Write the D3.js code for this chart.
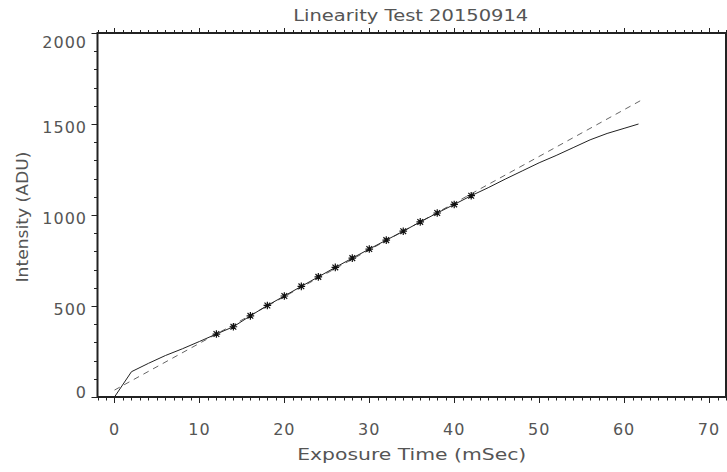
<!DOCTYPE html>
<html>
<head>
<meta charset="utf-8">
<script src="https://cdn.jsdelivr.net/npm/d3@7"></script>
<style>
  html, body { margin: 0; padding: 0; background: #fff; }
  svg { display: block; }
  text { font-family: "DejaVu Sans", sans-serif; fill: #555; }
</style>
</head>
<body>
<svg id="chart" width="727" height="472"></svg>
<script>
// Measured intensity versus exposure time (solid curve)
const exposureMs = [0, 2, 4, 6, 8, 10, 12, 14, 16, 18, 20, 22, 24, 26, 28, 30,
                    32, 34, 36, 38, 40, 42, 44, 46, 48, 50, 52, 54, 56, 58, 60, 61.7];
const intensityAdu = [0, 139, 185, 228, 265, 305, 346, 386, 446, 503, 555, 608,
                      660, 712, 763, 813, 862, 911, 962, 1011, 1058, 1106, 1150,
                      1197, 1242, 1287, 1327, 1370, 1413, 1448, 1476, 1500];

// Points used for the linear fit (asterisks)
const fitPointMs = [12, 14, 16, 18, 20, 22, 24, 26, 28, 30, 32, 34, 36, 38, 40, 42];
const fitPointAdu = [346, 386, 446, 503, 555, 608, 660, 712, 763, 813, 862, 911,
                     962, 1011, 1058, 1106];

// Linear fit line endpoints (dashed)
const fitLineMs = [0, 62];
const fitLineAdu = [38, 1630];

// Axis ticks
const xTickValues = [0, 10, 20, 30, 40, 50, 60, 70];
const yTickValues = [0, 500, 1000, 1500, 2000];
const xDomain = [-2, 72];
const yDomain = [0, 2000];

const titleText = "Linearity Test 20150914";
const xTitle = "Exposure Time (mSec)";
const yTitle = "Intensity (ADU)";

const svg = d3.select("#chart");
const plot = { left: 97.5, right: 726, top: 33, bottom: 397 };

const x = d3.scaleLinear().domain(xDomain).range([plot.left, plot.right]);
const y = d3.scaleLinear().domain(yDomain).range([plot.bottom, plot.top]);

const axisColor = "#222";

// Tick marks (outward)
const xMinor = d3.range(Math.ceil(xDomain[0]), Math.floor(xDomain[1]) + 1, 1);
const yMinor = d3.range(yDomain[0], yDomain[1] + 1, 100);
const isMajorX = v => xTickValues.includes(v);
const isMajorY = v => yTickValues.includes(v);

const ticks = svg.append("g").attr("stroke", axisColor).attr("stroke-width", 1);
// bottom
ticks.selectAll(".xb").data(xMinor).join("line")
  .attr("x1", d => Math.round(x(d)) + 0.5).attr("x2", d => Math.round(x(d)) + 0.5)
  .attr("y1", plot.bottom).attr("y2", d => plot.bottom + (isMajorX(d) ? 6 : 3.5));
// top
ticks.selectAll(".xt").data(xMinor).join("line")
  .attr("x1", d => Math.round(x(d)) + 0.5).attr("x2", d => Math.round(x(d)) + 0.5)
  .attr("y1", plot.top).attr("y2", d => plot.top - (isMajorX(d) ? 5 : 3));
// left
ticks.selectAll(".yl").data(yMinor).join("line")
  .attr("y1", d => Math.round(y(d)) + 0.5).attr("y2", d => Math.round(y(d)) + 0.5)
  .attr("x1", plot.left).attr("x2", d => plot.left - (isMajorY(d) ? 6 : 3.5));

// Frame
svg.append("rect")
  .attr("x", plot.left).attr("y", plot.top)
  .attr("width", plot.right - plot.left).attr("height", plot.bottom - plot.top)
  .attr("fill", "none").attr("stroke", axisColor).attr("stroke-width", 2);

// Tick labels
svg.append("g").selectAll("text").data(xTickValues).join("text")
  .attr("x", d => x(d))
  .attr("y", 435)
  .attr("text-anchor", "middle")
  .attr("font-size", 16)
  .attr("letter-spacing", 1)
  .text(d => d);

svg.append("g").selectAll("text").data(yTickValues).join("text")
  .attr("x", 87)
  .attr("y", d => Math.min(Math.max(y(d) + 9, plot.top + 15), plot.bottom + 1))
  .attr("text-anchor", "end")
  .attr("font-size", 16)
  .attr("letter-spacing", 1)
  .text(d => d);

// Titles
svg.append("text")
  .attr("x", (plot.left + plot.right) / 2 - 1)
  .attr("y", 21)
  .attr("text-anchor", "middle")
  .attr("font-size", 16)
  .attr("textLength", 235).attr("lengthAdjust", "spacingAndGlyphs")
  .text(titleText);

svg.append("text")
  .attr("x", (plot.left + plot.right) / 2)
  .attr("y", 460)
  .attr("text-anchor", "middle")
  .attr("font-size", 16)
  .attr("textLength", 229).attr("lengthAdjust", "spacingAndGlyphs")
  .text(xTitle);

svg.append("text")
  .attr("transform", `translate(28, ${(plot.top + plot.bottom) / 2 + 2}) rotate(-90)`)
  .attr("text-anchor", "middle")
  .attr("font-size", 16)
  .attr("textLength", 131).attr("lengthAdjust", "spacingAndGlyphs")
  .text(yTitle);

// Data series
const measured = exposureMs.map((t, i) => [t, intensityAdu[i]]);
const fitLine = fitLineMs.map((t, i) => [t, fitLineAdu[i]]);
const fitPts = fitPointMs.map((t, i) => [t, fitPointAdu[i]]);

const line = d3.line().x(d => x(d[0])).y(d => y(d[1]));

svg.append("path")
  .attr("d", line(fitLine))
  .attr("fill", "none")
  .attr("stroke", "#666")
  .attr("stroke-width", 1)
  .attr("stroke-dasharray", "6,5");

svg.append("path")
  .attr("d", line(measured))
  .attr("fill", "none")
  .attr("stroke", "#222")
  .attr("stroke-width", 1);

// Asterisk markers
const r = 3.8;
const star = `M${-r},0L${r},0M0,${-r}L0,${r}` +
             `M${-r * 0.75},${-r * 0.75}L${r * 0.75},${r * 0.75}` +
             `M${-r * 0.75},${r * 0.75}L${r * 0.75},${-r * 0.75}`;
svg.append("g").selectAll("path").data(fitPts).join("path")
  .attr("transform", d => `translate(${x(d[0])},${y(d[1])})`)
  .attr("d", star)
  .attr("fill", "none")
  .attr("stroke", "#111")
  .attr("stroke-width", 1.2);
</script>
</body>
</html>
